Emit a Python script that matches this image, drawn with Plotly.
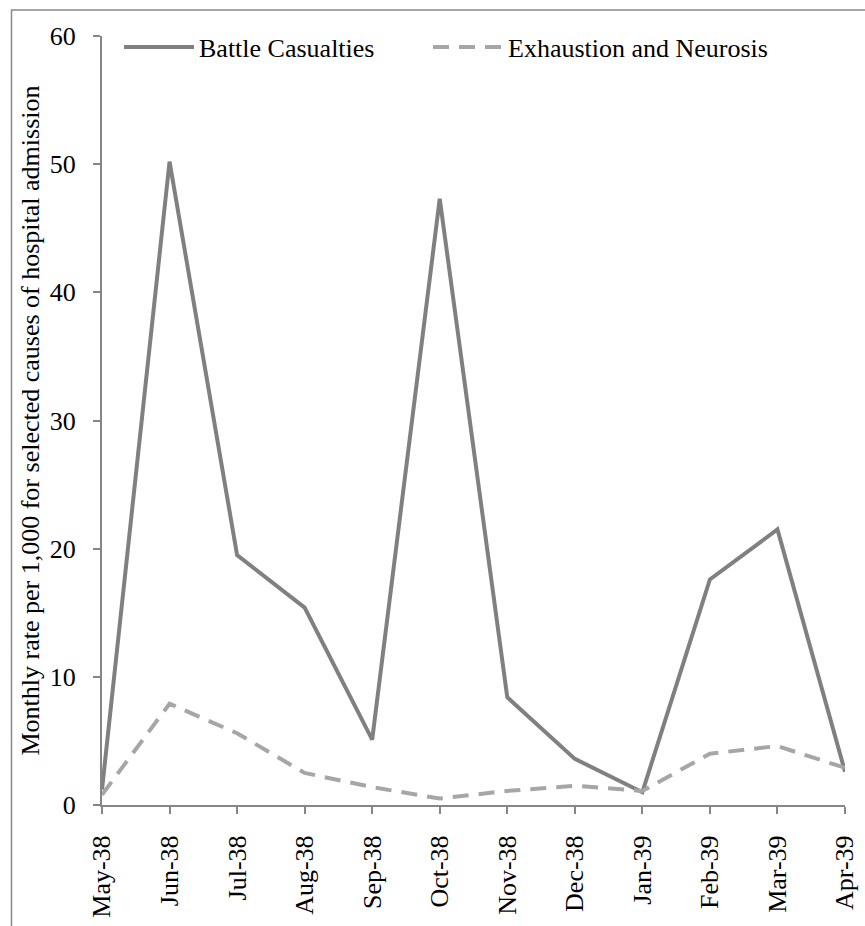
import plotly.graph_objects as go

months = ["May-38", "Jun-38", "Jul-38", "Aug-38", "Sep-38", "Oct-38",
          "Nov-38", "Dec-38", "Jan-39", "Feb-39", "Mar-39", "Apr-39"]
battle = [1.2, 50.2, 19.5, 15.4, 5.1, 47.3, 8.4, 3.6, 1.0, 17.6, 21.5, 2.6]
exhaustion = [0.8, 7.9, 5.6, 2.5, 1.4, 0.5, 1.1, 1.5, 1.1, 4.0, 4.6, 2.9]
y_ticks = [0, 10, 20, 30, 40, 50, 60]

idx = list(range(len(months)))
FONT = "Liberation Serif, Times New Roman, serif"
AXIS = "#868686"
FS = 26

fig = go.Figure()
fig.add_trace(go.Scatter(x=idx, y=battle, mode="lines", name="Battle Casualties",
                         line=dict(color="#808080", width=4), legend="legend"))
fig.add_trace(go.Scatter(x=idx, y=exhaustion, mode="lines", name="Exhaustion and Neurosis",
                         line=dict(color="#a6a6a6", width=4, dash="16px,10px"), legend="legend2"))

L, R, T, B = 102, 20, 36, 121
W, H = 865, 926
pw, ph = W - L - R, H - T - B

def px_x(p):
    return (p - L) / pw

def px_y(p):
    return (H - B - p) / ph

fig.add_shape(type="rect", xref="paper", yref="paper",
              x0=px_x(11.5), x1=px_x(880), y0=px_y(950), y1=px_y(10),
              line=dict(color="#898989", width=1.5), fillcolor="rgba(0,0,0,0)")

leg_common = dict(orientation="h", xanchor="left", yanchor="middle", y=px_y(47),
                  itemwidth=70, bgcolor="rgba(0,0,0,0)", font=dict(size=FS))

fig.update_layout(
    width=W, height=H,
    margin=dict(l=L, r=R, t=T, b=B, autoexpand=False),
    paper_bgcolor="white", plot_bgcolor="white",
    font=dict(family=FONT, size=FS, color="black"),
    showlegend=True,
    hovermode=False,
    legend=dict(x=px_x(119), **leg_common),
    legend2=dict(x=px_x(428), **leg_common),
    xaxis=dict(range=[0, len(months) - 1], tickmode="array", tickvals=idx, ticktext=months,
               tickangle=-90, showgrid=False, zeroline=False, showline=True,
               linecolor=AXIS, linewidth=2, ticks="outside", ticklen=7, tickwidth=2,
               tickcolor=AXIS, ticklabelstandoff=11, automargin=False),
    yaxis=dict(range=[0, 60], tickmode="array", tickvals=y_ticks, showgrid=False,
               zeroline=False, showline=True, linecolor=AXIS, linewidth=2,
               ticks="outside", ticklen=7, tickwidth=2, tickcolor=AXIS,
               ticklabelstandoff=12, automargin=False,
               title=dict(text="Monthly rate per 1,000 for selected causes of hospital admission",
                          standoff=3, font=dict(size=FS))),
)

fig.write_html("out.html", config={"displayModeBar": False},
               post_script="document.body.style.margin='0';document.body.style.padding='0';document.body.style.overflow='hidden';")
